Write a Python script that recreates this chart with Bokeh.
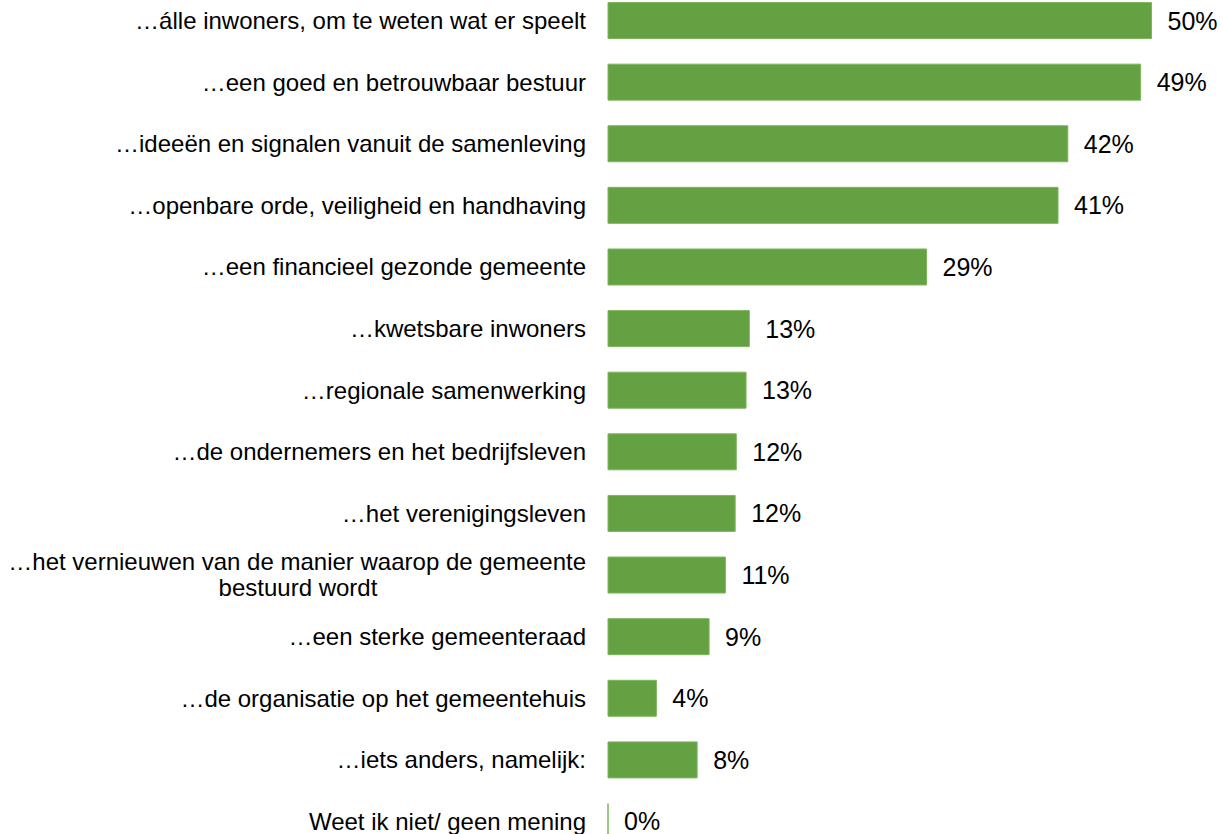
from bokeh.plotting import figure
from bokeh.models import Range1d, ColumnDataSource
from bokeh.core.properties import value
from bokeh.embed import file_html
from bokeh.resources import INLINE

categories = [
    "…álle inwoners, om te weten wat er speelt",
    "…een goed en betrouwbaar bestuur",
    "…ideeën en signalen vanuit de samenleving",
    "…openbare orde, veiligheid en handhaving",
    "…een financieel gezonde gemeente",
    "…kwetsbare inwoners",
    "…regionale samenwerking",
    "…de ondernemers en het bedrijfsleven",
    "…het verenigingsleven",
    "…het vernieuwen van de manier waarop de gemeente\nbestuurd wordt",
    "…een sterke gemeenteraad",
    "…de organisatie op het gemeentehuis",
    "…iets anders, namelijk:",
    "Weet ik niet/ geen mening",
]
# bar lengths (unrounded), and the rounded labels shown
values = [50.0, 49.0, 42.3, 41.4, 29.3, 13.0, 12.7, 11.8, 11.7, 10.8, 9.3, 4.45, 8.2, 0.0]
value_labels = ["50%", "49%", "42%", "41%", "29%", "13%", "13%", "12%", "12%", "11%",
                "9%", "4%", "8%", "0%"]

FONT = "Liberation Sans"
n = len(categories)
idx = list(range(n))
PX = 10.87  # pixels per percent

src = ColumnDataSource(dict(y=idx, v=values, txt=value_labels))

p = figure(width=1223, height=834, output_backend="svg", toolbar_location=None,
           x_range=Range1d(-607.5 / PX, 615.5 / PX), y_range=Range1d(n - 1 + 0.211, -0.325),
           min_border_left=0, min_border_right=0, min_border_top=0, min_border_bottom=0)
p.axis.visible = False
p.grid.visible = False
p.outline_line_color = None
p.background_fill_color = "white"

p.hbar(y="y", left=0, right="v", height=0.584, source=src,
       fill_color="#63A143", line_color="#7DB55C", line_width=1)

p.text(x="v", y="y", text="txt", source=src, x_offset=16,
       text_font=value(FONT), text_font_size="25px",
       text_align="left", text_baseline="middle", text_color="#000000")

# category labels (left of the axis)
single_y, single_t = [], []
for i, c in enumerate(categories):
    if "\n" in c:
        first, second = c.split("\n")
        p.text(x=[0], y=[i], text=[first], x_offset=-22, y_offset=-14,
               text_font=value(FONT), text_font_size="24px",
               text_align="right", text_baseline="middle", text_color="#000000")
        p.text(x=[0], y=[i], text=[second], x_offset=-310, y_offset=12,
               text_font=value(FONT), text_font_size="24px",
               text_align="center", text_baseline="middle", text_color="#000000")
    else:
        single_y.append(i)
        single_t.append(c)

p.text(x=0, y=single_y, text=single_t, x_offset=-22,
       text_font=value(FONT), text_font_size="24px",
       text_align="right", text_baseline="middle", text_color="#000000")

open("out.html", "w").write(file_html(p, INLINE))
